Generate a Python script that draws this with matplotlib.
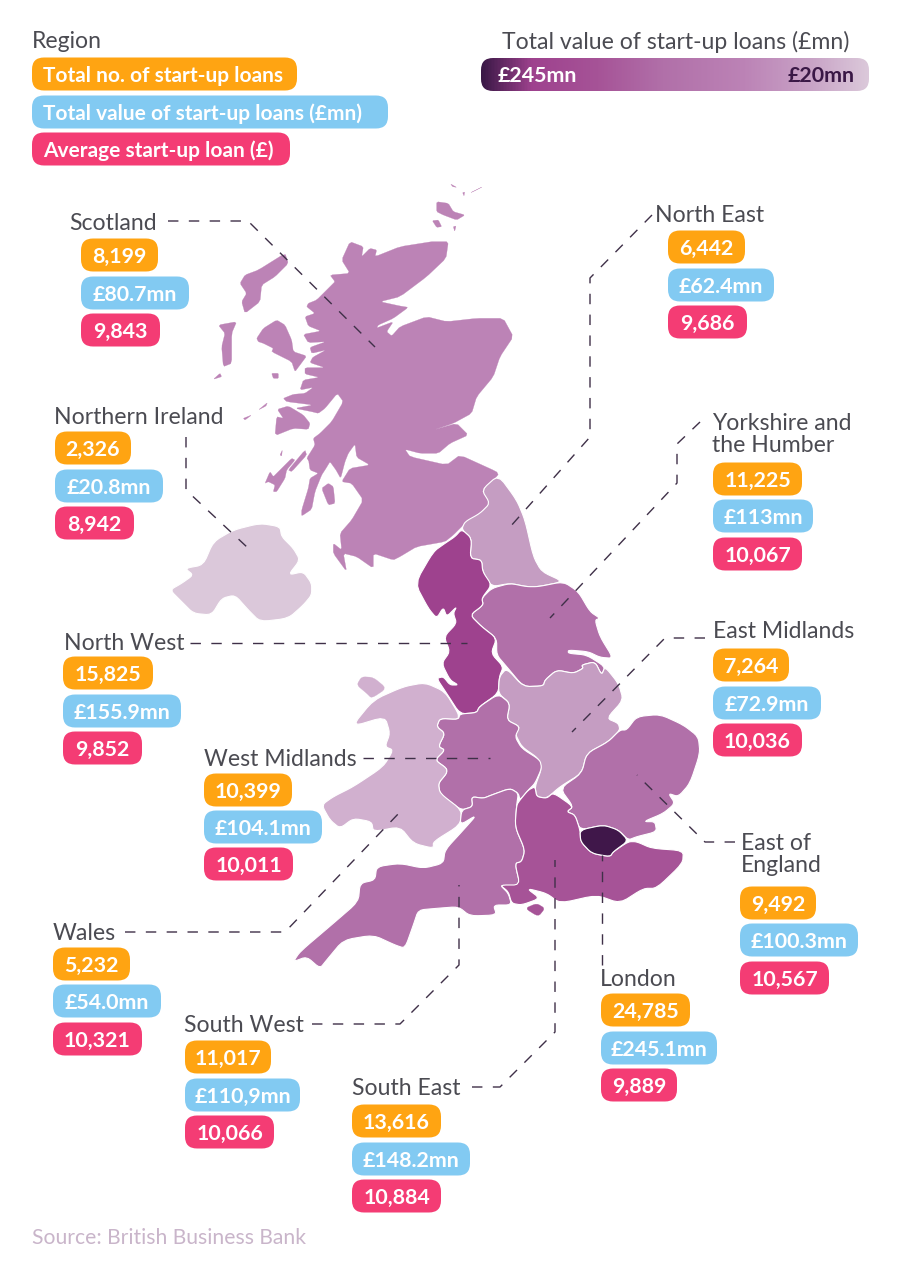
import matplotlib
matplotlib.use("Agg")
import matplotlib.pyplot as plt
import numpy as np
from matplotlib.patches import FancyBboxPatch, Polygon
from matplotlib.colors import LinearSegmentedColormap

plt.rcParams['font.family'] = ['Lato', 'DejaVu Sans']

# ---------- data ----------
regions = ["Scotland", "North East", "Northern Ireland", "Yorkshire and\nthe Humber", "North West",
           "East Midlands", "West Midlands", "East of\nEngland", "Wales", "South West", "South East", "London"]
total_loans = ["8,199", "6,442", "2,326", "11,225", "15,825", "7,264", "10,399", "9,492", "5,232", "11,017", "13,616", "24,785"]
total_value = ["£80.7mn", "£62.4mn", "£20.8mn", "£113mn", "£155.9mn", "£72.9mn", "£104.1mn", "£100.3mn", "£54.0mn", "£110,9mn", "£148.2mn", "£245.1mn"]
average_loan = ["9,843", "9,686", "8,942", "10,067", "9,852", "10,036", "10,011", "10,567", "10,321", "10,066", "10,884", "9,889"]
legend_labels = ["Total no. of start-up loans", "Total value of start-up loans (£mn)", "Average start-up loan (£)"]

# ---------- styles / layout ----------
ORANGE, BLUE, PINK = "#FFA412", "#82CAF2", "#F43C74"
TXT = "#4b4b52"
region_colors = ["#BC83B6", "#C59DC2", "#DBC8DA", "#B170A9", "#9E428E", "#C59DC2", "#B170A9", "#B170A9",
                 "#D1B0CF", "#B170A9", "#A65397", "#40174A"]
label_pos = [(69, 223), (655, 215), (54, 418), (712, 434.5), (64, 644), (713, 632), (204, 759.5), (741, 854.5),
             (53, 933.5), (184, 1025.5), (352, 1088.5), (600, 979)]
pill_x = [81, 668, 55, 713, 63, 713, 204, 740, 53, 185, 352, 601]
pill_y = [(255, 293, 330), (247, 285, 322), (448, 486, 523), (479, 516, 554), (673, 711, 748), (665, 703, 740),
          (790, 827, 864), (903, 940, 978), (964, 1001, 1039), (1057, 1095, 1132), (1121, 1159, 1196), (1010, 1048, 1085)]
pill_w = [(77, 108, 79), (77, 106, 79), (76, 108, 79), (89, 100, 89), (90, 118, 79), (76, 108, 89),
          (88, 118, 89), (76, 118, 89), (77, 108, 89), (86, 115, 89), (89, 118, 89), (89, 116, 76)]
leaders = [
    [(168, 221), (248, 221), (375, 347)],
    [(652, 215), (590, 278), (590, 437), (510, 527)],
    [(186, 437), (186, 490), (248, 548)],
    [(700, 422), (677, 444), (677, 483), (550, 618)],
    [(190, 643), (467, 643)],
    [(705, 638), (665, 638), (572, 732)],
    [(363, 758), (490, 758)],
    [(735, 842), (705, 842), (637, 775)],
    [(125, 932), (285, 932), (400, 812)],
    [(312, 1024), (400, 1024), (459, 965), (459, 885)],
    [(472, 1087), (500, 1087), (555, 1032), (555, 860)],
    [(602, 965), (602, 855)],
]

# ---------- map outlines (traced geometry; several trace frames) ----------
def z1(pts):
    return [(160 + x / 3, 170 + y / 3) for x, y in pts]
def z2(pts):
    return [(290 + x / 3, 520 + y / 3) for x, y in pts]
def za(pts):
    return [(250 + x / 3, 300 + y / 3) for x, y in pts]
def zb(pts):
    return [(250 + x / 3, 420 + y / 3) for x, y in pts]

scotland = [
    z1([(820,215),(865,215),(858,265),(800,320),(720,380),(660,395),(720,408),(745,412),(700,445),(655,465),(650,474),(700,455),(680,485),(695,498),(720,470),(800,440),(860,455),(950,445),(1030,445),(1060,500),(1020,560),(1000,620),(950,680),(935,730),(880,760),(820,780),(890,760),(925,795),(870,820),(835,850),(780,850),(735,838),(750,860),(860,885),(900,855),(1010,905),(1015,915),(965,960),(990,1000),(960,1030),(915,1060),(880,1095),(855,1115),(770,1130),(720,1160),(700,1170),(640,1150),(640,1195),(590,1160),(550,1150),(560,1205),(520,1150),(520,1120),(545,1140),(540,1090),(575,1050)])
    + zb([(340,240),(305,190),(275,185),(300,145),(360,135),(320,112),(315,72),(295,100),(285,125),(272,175),(258,150),(240,125),(228,145),(215,165),(195,215),(185,268),(155,288),(155,270),(175,205),(180,175),(205,160),(180,150),(175,115),(205,105),(260,65),(290,50),(230,90),(205,115),(180,125),(170,115),(195,75),(190,55),(210,40),(245,5)])
    + za([(280,305),(262,280),(225,325),(205,340),(185,335),(135,325),(190,315),(110,305),(100,295),(130,283),(165,280),(190,262),(150,270),(160,240),(208,232),(165,222),(165,203),(225,203),(180,188),(188,172),(228,150),(185,160),(180,142),(228,125),(175,128),(160,103),(213,93),(175,78),(165,50),(195,40),(170,20),(175,10),(200,0)])
    + z1([(510,350),(525,335),(510,315),(570,310),(545,270),(570,215),(610,230),(605,260),(630,235),(650,240),(645,260),(720,230),(815,215)]),
    z1([(240,340),(255,315),(295,300),(375,250),(385,280),(345,320),(305,345),(300,395),(255,430),(245,395),(260,370)]),
    z1([(175,465),(230,455),(215,490),(215,580),(190,590),(185,530),(195,490)]),
    z1([(160,628),(180,610),(185,620)]),
    za([(20,115),(40,85),(80,60),(105,75),(125,120),(130,155),(170,168),(150,195),(135,215),(125,185),(65,155),(70,145),(40,130),(25,125)]),
    za([(65,220),(85,220),(85,235),(70,235)]),
    z1([(345,797),(400,775),(445,778),(450,760),(430,735),(385,708),(352,718),(370,745),(350,740)]),
    z1([(295,720),(322,698),(318,708)]),
    z1([(250,745),(275,735),(255,750)]),
    zb([(115,150),(165,90),(170,105),(125,155)]),
    zb([(90,105),(97,90),(95,108)]),
    zb([(45,190),(60,155),(70,170),(85,155),(125,115),(135,120),(110,150),(105,175),(80,215),(70,215),(75,195),(55,185)]),
    zb([(215,205),(235,190),(250,200),(255,250),(235,255)]),
    z1([(830,95),(865,100),(880,125),(915,135),(890,150),(850,135),(830,125)]),
    z1([(817,152),(835,150),(845,170),(830,172)]),
    z1([(880,170),(888,168),(884,184)]),
    z1([(932,68),(968,50),(945,62)]),
    z1([(872,42),(890,52),(878,50)]),
    z1([(908,68),(914,66),(912,78)]),
]
northern_ireland = [z1([(30,1260),(65,1240),(100,1215),(75,1195),(130,1185),(160,1115),(220,1080),(300,1060),(360,1070),(365,1100),(400,1135),(420,1170),(385,1215),(430,1205),(455,1240),(455,1275),(430,1305),(385,1345),(300,1355),(265,1320),(225,1275),(185,1285),(155,1335),(100,1330),(65,1295)])]
north_west = [z2([(515,28),(545,55),(540,115),(575,120),(578,155),(605,195),(575,235),(580,255),(540,285),(575,320),(620,355),(603,400),(640,440),(628,470),(625,520),(568,560),(560,578),(510,582),(470,520),(440,475),(460,470),(480,495),(505,495),(480,480),(455,430),(480,395),(462,350),(500,310),(490,280),(500,260),(470,290),(460,262),(440,295),(415,265),(375,190),(430,95),(465,70),(495,50)])]
north_east = [z2([(625,-135),(575,-90),(600,-50),(570,-20),(525,5),(515,28),(545,55),(540,115),(575,120),(578,155),(605,200),(660,190),(710,200),(745,200),(820,185),(755,155),(730,110),(705,0),(680,-60)])]
yorkshire = [z2([(605,205),(660,190),(710,200),(745,200),(820,185),(865,215),(900,275),(930,295),(915,300),(930,350),(970,415),(930,412),(895,395),(835,390),(835,400),(890,405),(945,440),(935,465),(915,425),(875,435),(880,445),(850,460),(800,450),(765,480),(760,498),(700,500),(650,440),(620,405),(620,355),(575,320),(540,285),(580,255),(575,235)])]
east_midlands = [z2([(650,445),(700,500),(760,498),(765,480),(800,450),(850,460),(880,445),(875,435),(915,425),(935,465),(945,440),(985,490),(1000,540),(950,595),(985,610),(990,630),(955,665),(890,700),(875,760),(810,800),(770,835),(740,830),(735,800),(755,745),(745,715),(695,680),(675,640),(690,620),(650,600),(660,550),(625,520),(628,470)])]
west_midlands = [z2([(625,522),(660,550),(650,600),(690,620),(675,650),(695,685),(750,720),(755,745),(735,790),(715,810),(690,840),(685,820),(660,805),(605,825),(580,835),(545,830),(548,860),(515,870),(480,845),(450,820),(445,790),(470,760),(470,745),(435,720),(465,690),(445,680),(465,640),(440,620),(450,595),(505,598),(510,582),(560,578),(568,560)])]
wales = [z2([(465,515),(505,580),(505,598),(450,595),(440,620),(465,640),(445,680),(465,690),(435,720),(470,745),(470,760),(445,790),(450,820),(515,870),(510,915),(430,965),(430,985),(370,970),(330,920),(250,935),(245,905),(190,895),(150,925),(120,900),(95,855),(130,830),(190,800),(280,740),(310,690),(285,680),(300,640),(285,590),(185,620),(250,540),(340,500),(405,488)]),
         z2([(200,495),(215,470),(250,472),(290,505),(245,535),(230,520)])]
east_england = [z2([(810,805),(875,760),(890,700),(955,665),(990,630),(1010,630),(1040,590),(1110,583),(1180,615),(1225,650),(1230,700),(1200,790),(1165,830),(1135,820),(1155,850),(1120,880),(1060,905),(1095,905),(1100,935),(1040,950),(1015,960),(985,930),(940,915),(870,930),(855,885),(830,875),(850,860)])]
south_west = [z2([(548,860),(545,830),(580,835),(605,825),(660,805),(685,820),(680,855),(675,920),(705,990),(695,1025),(675,1030),(690,1095),(665,1100),(630,1095),(655,1120),(665,1155),(610,1155),(620,1185),(540,1188),(505,1160),(440,1165),(385,1170),(370,1215),(345,1285),(315,1275),(250,1245),(160,1260),(110,1320),(90,1345),(50,1310),(10,1325),(30,1295),(130,1210),(205,1145),(210,1090),(255,1080),(260,1040),(330,1030),(400,1045),(460,1030),(465,990),(520,930),(560,885),(510,915),(515,870)])]
south_east = [z2([(735,800),(740,830),(770,835),(790,818),(850,860),(830,875),(855,885),(870,930),(872,965),(905,1000),(960,1010),(970,995),(1015,965),(1040,965),(1085,985),(1180,992),(1178,1030),(1100,1105),(1060,1105),(990,1150),(920,1125),(810,1150),(770,1120),(710,1105),(750,1135),(695,1155),(665,1150),(655,1115),(630,1095),(690,1095),(675,1030),(695,1025),(705,990),(675,920),(680,855),(690,840),(715,810)]),
              z2([(705,1165),(740,1150),(765,1165),(745,1190)])]
london = [z2([(870,930),(940,915),(985,930),(1015,962),(970,995),(960,1010),(905,1000),(872,965)])]
region_shapes = [scotland, north_east, northern_ireland, yorkshire, north_west, east_midlands, west_midlands,
                 east_england, wales, south_west, south_east, london]


def soften(pts, q=0.18, rounds=2):
    p = np.asarray(pts, float)
    for _ in range(rounds):
        nxt = np.roll(p, -1, axis=0)
        p = np.column_stack(((1 - q) * p + q * nxt, q * p + (1 - q) * nxt)).reshape(-1, 2)
    return p


# ---------- figure ----------
fig = plt.figure(figsize=(9, 12.79), dpi=100)
ax = fig.add_axes([0, 0, 1, 1])
ax.axis("off")

for r, (shapes, col) in enumerate(zip(region_shapes, region_colors)):
    for k, pts in enumerate(shapes):
        outline = soften(pts, q=0.12, rounds=1) if r == 0 else soften(pts)
        ax.add_patch(Polygon(outline, closed=True, fc=col, ec="white" if (k == 0 and r != 0) else col,
                             lw=0.8 if (k == 0 and r != 0) else 0.2, joinstyle="round", zorder=2))

# the Scotland / North East border stays white because North East is drawn after Scotland with a white edge
for path in leaders:
    xs, ys = zip(*path)
    ax.plot(xs, ys, color="#3f3048", lw=1.0, dashes=(7.5, 7.5), zorder=3, dash_capstyle="butt")


def pill(x, yc, w, color, text, ha="center", size=15.4, h=33):
    ax.add_patch(FancyBboxPatch((x, yc - h / 2), w, h, boxstyle="round,pad=0,rounding_size=12",
                                fc=color, ec="none", zorder=4))
    tx = x + w / 2 if ha == "center" else x + 11
    ax.text(tx, yc, text, ha=ha, va="center_baseline", color="white", fontsize=size, fontweight="bold", zorder=5)


for i, name in enumerate(regions):
    lx, ly = label_pos[i]
    ax.text(lx, ly, name, ha="left", va="center", color=TXT, fontsize=16.6, linespacing=1.02, zorder=5)
    vals = (total_loans[i], total_value[i], average_loan[i])
    for v, yc, w, c in zip(vals, pill_y[i], pill_w[i], (ORANGE, BLUE, PINK)):
        pill(pill_x[i], yc, w, c, v)

# legend
ax.text(32, 42, "Region", ha="left", va="center", color=TXT, fontsize=16.6)
for lab, yc, w, c in zip(legend_labels, (74, 112, 149), (265, 356, 258), (ORANGE, BLUE, PINK)):
    pill(32, yc, w, c, lab, ha="left", size=15.0)

# colour scale
ax.text(675.5, 42, "Total value of start-up loans (£mn)", ha="center", va="center", color=TXT, fontsize=16.6)
stops = [(0, "#3A1846"), (0.13, "#9E428E"), (0.3, "#A65397"), (0.47, "#B170A9"), (0.68, "#BC83B6"), (0.85, "#C8A2C6"), (1, "#DBC8DA")]
cmap = LinearSegmentedColormap.from_list("scale", stops)
im = ax.imshow(np.linspace(0, 1, 388)[None, :], cmap=cmap, extent=(481, 869, 91, 58), aspect="auto", zorder=4)
clip = FancyBboxPatch((481, 58), 388, 33, boxstyle="round,pad=0,rounding_size=12", fc="none", ec="none",
                      transform=ax.transData)
ax.add_patch(clip)
im.set_clip_path(clip)
ax.text(498, 74.5, "£245mn", ha="left", va="center_baseline", color="white", fontsize=15.4, fontweight="bold", zorder=5)
ax.text(855, 74.5, "£20mn", ha="right", va="center_baseline", color="#3A1846", fontsize=15.4, fontweight="bold", zorder=5)

ax.text(32, 1237.5, "Source: British Business Bank", ha="left", va="center", color="#C9B5CA", fontsize=15.2)

ax.set_xlim(0, 900)
ax.set_ylim(1279, 0)
fig.savefig("out.png", dpi=100, facecolor="white")
